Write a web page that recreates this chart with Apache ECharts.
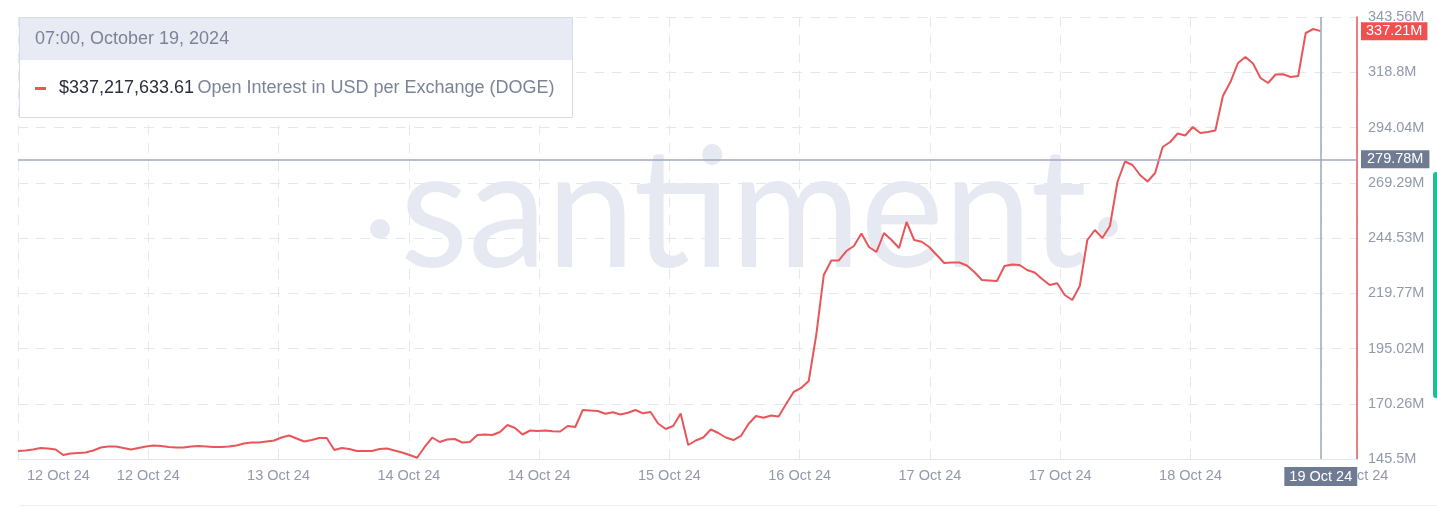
<!DOCTYPE html>
<html>
<head>
<meta charset="utf-8">
<script src="https://cdn.jsdelivr.net/npm/echarts@6/dist/echarts.min.js"></script>
<style>
html,body{margin:0;padding:0;background:#ffffff;}
#chart{width:1437px;height:508px;}
</style>
</head>
<body>
<div id="chart"></div>
<script>
// Hourly open interest (millions USD), 12 Oct 2024 02:00 -> 19 Oct 2024 07:00
const hourlyOI = [
  149.08,149.31,149.76,150.43,150.21,149.76,147.29,147.96,148.19,148.41,
  149.31,150.65,151.10,151.10,150.43,149.76,150.43,151.10,151.55,151.33,
  150.88,150.65,150.65,151.10,151.33,151.10,150.88,150.88,151.10,151.55,
  152.45,152.89,152.89,153.34,153.79,155.13,156.03,154.69,153.34,154.01,
  154.91,154.91,149.53,150.43,149.98,149.08,149.08,149.08,149.98,150.21,
  149.31,148.41,147.29,146.08,150.88,155.13,153.12,154.24,154.46,152.89,
  153.12,156.25,156.48,156.25,157.60,160.74,159.39,156.48,158.27,158.05,
  158.27,157.91,157.82,160.29,159.84,167.46,167.23,167.01,165.75,166.43,
  165.44,166.20,167.46,165.98,166.56,161.41,158.94,160.29,165.89,151.77,
  153.79,155.13,158.72,157.15,155.13,154.01,155.81,161.18,164.77,163.96,
  164.99,164.54,170.15,175.52,177.32,180.45,201.06,227.95,234.45,234.45,
  238.70,240.95,246.55,240.50,238.26,246.77,243.63,240.05,251.70,243.63,
  242.87,240.50,236.91,233.33,233.55,233.55,232.21,229.29,225.71,225.49,
  225.26,231.98,232.65,232.43,230.19,229.07,226.16,223.47,224.23,218.99,
  216.75,223.02,243.63,248.11,244.53,249.91,269.62,278.81,277.24,272.76,
  269.85,273.66,285.31,287.55,291.36,290.46,294.27,291.58,292.03,292.70,
  308.16,314.43,322.95,325.64,322.72,316.23,313.99,317.79,317.93,316.67,
  317.12,336.39,338.18,337.21763361
];
const xTickLabels = ['12 Oct 24','12 Oct 24','13 Oct 24','14 Oct 24','14 Oct 24','15 Oct 24','16 Oct 24','17 Oct 24','17 Oct 24','18 Oct 24','19 Oct 24'];
const yTickLabels = ['145.5M','170.26M','195.02M','219.77M','244.53M','269.29M','294.04M','318.8M','343.56M'];
const yMin = 145.5;
const yMax = 343.56;
const crosshairValue = 279.78;
const crosshairDate = '19 Oct 24';
const tooltipTime = '07:00, October 19, 2024';
const seriesName = 'Open Interest in USD per Exchange (DOGE)';
const watermark = 'santiment';

const FONT = '"Liberation Sans", Arial, sans-serif';
const RED = '#e8565a';
const CROSS = '#9ea7bf';
const CROSS_BG = '#6f7a93';
const WM = '#e6e9f2';

const lastIdx = hourlyOI.length - 1;
const lastVal = hourlyOI[lastIdx];
const xInterval = lastIdx / 10;
const xMax = lastIdx + xInterval * 0.278;

const chart = echarts.init(document.getElementById('chart'), null, {renderer: 'canvas'});

const valueText = '$' + (lastVal * 1e6).toLocaleString('en-US', {minimumFractionDigits: 2, maximumFractionDigits: 2});

const option = {
  animation: false,
  textStyle: {fontFamily: FONT},
  grid: {left: 18, right: 80, top: 17, bottom: 49, containLabel: false, outerBoundsMode: 'none'},
  xAxis: {
    type: 'value', min: 0, max: xMax, interval: xInterval,
    axisLine: {show: true, onZero: false, lineStyle: {color: '#e3e6ed', width: 1}},
    axisTick: {show: false},
    splitLine: {show: true, lineStyle: {color: '#e4e7ee', type: [10, 8], width: 1}},
    axisLabel: {
      show: true, color: '#9199ab', fontSize: 14.5, fontFamily: FONT, margin: 9,
      showMinLabel: true, showMaxLabel: true, alignMinLabel: 'left', hideOverlap: false,
      formatter: function (v) {
        const k = Math.min(Math.round(v / xInterval), xTickLabels.length - 1);
        return v === 0 ? '{first|' + xTickLabels[k] + '}' : xTickLabels[k];
      },
      rich: {
        first: {padding: [0, 0, 0, 9], color: '#9199ab', fontSize: 14.5, fontFamily: FONT}
      }
    }
  },
  yAxis: [
    {
      type: 'value', min: 0, max: yTickLabels.length - 1, interval: 1, position: 'right',
      axisLine: {show: true, onZero: false, lineStyle: {color: RED, width: 1.5}},
      axisTick: {show: false},
      splitLine: {show: true, lineStyle: {color: '#e4e7ee', type: [10, 8], width: 1}},
      axisLabel: {
        color: '#9199ab', fontSize: 14.5, fontFamily: FONT, margin: 11,
        formatter: function (v) { return yTickLabels[Math.round(v)]; }
      }
    },
    {type: 'value', min: yMin, max: yMax, show: false, position: 'right', axisLine: {onZero: false}}
  ],
  graphic: [
    {type: 'text', z: 1, x: 400, y: 213, scaleX: 0.95, scaleY: 1,
      style: {text: watermark, font: '400 166px Lato, "Open Sans", sans-serif', fill: WM, textAlign: 'left', textVerticalAlign: 'middle'}},
    {type: 'circle', z: 1, shape: {cx: 380, cy: 229, r: 10}, style: {fill: WM}},
    {type: 'circle', z: 1, shape: {cx: 1108, cy: 227, r: 10}, style: {fill: WM}},
    {type: 'rect', z: 100, shape: {x: 19.5, y: 17.5, width: 553, height: 100}, style: {fill: '#ffffff', stroke: '#d7dbe7', lineWidth: 1}},
    {type: 'rect', z: 101, shape: {x: 20, y: 18, width: 552, height: 42}, style: {fill: '#e8ebf4'}},
    {type: 'text', z: 102, x: 35, y: 39,
      style: {text: tooltipTime, font: '18px ' + FONT, fill: '#7b8398', textVerticalAlign: 'middle'}},
    {type: 'rect', z: 102, shape: {x: 35, y: 87, width: 11, height: 3}, style: {fill: RED}},
    {type: 'text', z: 102, x: 59, y: 88,
      style: {
        text: '{v|' + valueText + '} {n|' + seriesName + '}',
        textVerticalAlign: 'middle',
        rich: {
          v: {fontSize: 18, fontFamily: FONT, fill: '#2a2f3b', color: '#2a2f3b'},
          n: {fontSize: 18, fontFamily: FONT, fill: '#7b8398', color: '#7b8398'}
        }
      }},
    {type: 'rect', z: 5, shape: {x: 1433, y: 172, width: 6, height: 226, r: 3}, style: {fill: '#1fbf90'}},
    {type: 'line', z: 5, shape: {x1: 20, y1: 505.5, x2: 1437, y2: 505.5}, style: {stroke: '#eceef3', lineWidth: 1}}
  ],
  series: [
    {
      name: seriesName,
      type: 'line',
      xAxisIndex: 0,
      yAxisIndex: 1,
      data: hourlyOI.map(function (v, i) { return [i, v]; }),
      showSymbol: false,
      symbol: 'none',
      color: RED,
      lineStyle: {color: RED, width: 2},
      z: 3,
      markLine: {
        silent: true,
        animation: false,
        symbol: ['none', 'none'],
        precision: 2,
        data: [
          {yAxis: crosshairValue,
            lineStyle: {color: CROSS, width: 1.5, type: 'solid'},
            label: {show: true, position: 'end', distance: 4, formatter: crosshairValue.toFixed(2) + 'M',
              backgroundColor: CROSS_BG, color: '#ffffff', padding: [2, 6, 1, 6], fontSize: 14.5, fontFamily: FONT}},
          {xAxis: lastIdx,
            lineStyle: {color: CROSS, width: 1.5, type: 'solid'},
            label: {show: true, position: 'start', distance: 8, formatter: crosshairDate,
              backgroundColor: CROSS_BG, color: '#ffffff', padding: [2, 5, 2, 5], fontSize: 14.5, fontFamily: FONT}},
          {yAxis: lastVal,
            lineStyle: {color: 'rgba(255,255,255,0)', width: 1, type: 'solid'},
            label: {show: true, position: 'end', distance: 4,
              formatter: (Math.floor(lastVal * 100) / 100).toFixed(2) + 'M',
              backgroundColor: '#f0504e', color: '#ffffff', padding: [2, 5, 1, 5], fontSize: 14.5, fontFamily: FONT}}
        ]
      }
    }
  ]
};
chart.setOption(option);
</script>
</body>
</html>
